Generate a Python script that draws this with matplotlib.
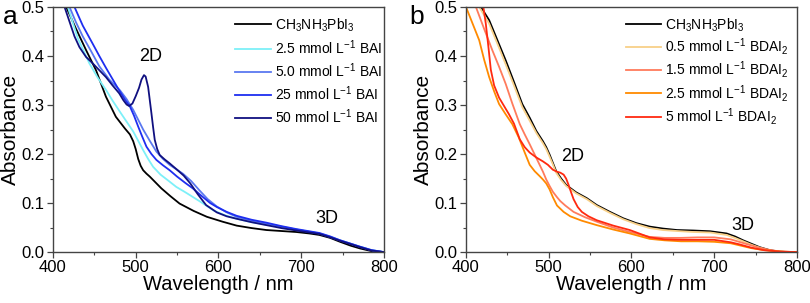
import matplotlib.pyplot as plt
from matplotlib.ticker import MultipleLocator

plt.rcParams['font.family'] = ['Liberation Sans', 'DejaVu Sans']
plt.rcParams['mathtext.fontset'] = 'custom'
plt.rcParams['mathtext.rm'] = 'Liberation Sans'
plt.rcParams['mathtext.it'] = 'Liberation Sans:italic'

# ── panel a: BAI series (wavelength nm, absorbance) ──
a_mapi_x = [416, 428, 440, 452, 464, 476, 487, 493, 497, 500, 503, 506, 509, 513, 517, 524, 531, 542, 553,
            570, 586, 605, 622, 640, 658, 676, 694, 710, 722, 735, 747, 760, 771, 785, 800]
a_mapi_y = [0.50, 0.455, 0.412, 0.371, 0.317, 0.276, 0.252, 0.240, 0.226, 0.210, 0.190, 0.176, 0.167, 0.160, 0.154, 0.142,
            0.130, 0.114, 0.099, 0.084, 0.072, 0.062, 0.054, 0.049, 0.045, 0.043, 0.041, 0.038, 0.035, 0.029, 0.021, 0.013,
            0.0075, 0.002, 0.0]

a_bai25_x = [418, 430, 444, 454, 464, 472, 481, 489, 497, 503, 509, 515, 521, 530, 540, 549, 560, 577, 594,
             608, 622, 640, 658, 676, 694, 708, 722, 735, 747, 760, 771, 785, 800]
a_bai25_y = [0.50, 0.436, 0.385, 0.356, 0.331, 0.309, 0.286, 0.266, 0.246, 0.227, 0.208, 0.190, 0.174, 0.158, 0.145, 0.133,
             0.122, 0.104, 0.085, 0.075, 0.068, 0.061, 0.056, 0.051, 0.046, 0.042, 0.038, 0.031, 0.024, 0.017, 0.011,
             0.004, 0.0]

a_bai50_x = [420, 428, 436, 446, 456, 468, 481, 489, 497, 503, 509, 517, 525, 533, 541, 549, 557, 567, 577,
             587, 598, 610, 622, 640, 658, 676, 694, 708, 722, 735, 747, 760, 771, 785, 800]
a_bai50_y = [0.50, 0.468, 0.440, 0.410, 0.379, 0.352, 0.330, 0.312, 0.290, 0.270, 0.250, 0.227, 0.205, 0.190, 0.178, 0.169,
             0.160, 0.145, 0.126, 0.108, 0.093, 0.081, 0.072, 0.064, 0.058, 0.052, 0.046, 0.042, 0.038, 0.031, 0.024,
             0.017, 0.011, 0.004, 0.0]

a_bai250_x = [426, 436, 448, 456, 464, 473, 481, 487, 493, 498, 503, 508, 513, 519, 525, 533, 541, 550, 560,
              569, 580, 590, 598, 610, 622, 640, 658, 676, 694, 708, 722, 735, 747, 760, 771, 785, 800]
a_bai250_y = [0.50, 0.462, 0.425, 0.400, 0.376, 0.350, 0.327, 0.311, 0.297, 0.278, 0.256, 0.235, 0.215, 0.200, 0.188,
              0.177, 0.167, 0.154, 0.141, 0.130, 0.114, 0.100, 0.092, 0.082, 0.074, 0.066, 0.060, 0.053, 0.047, 0.043,
              0.039, 0.032, 0.024, 0.017, 0.011, 0.004, 0.0]

a_bai500_x = [414, 420, 426, 432, 440, 448, 456, 464, 472, 480, 485, 489, 492, 496, 500, 504, 507, 510, 512,
              515, 517, 519, 521, 523, 526, 529, 535, 541, 550, 558, 566, 575, 585, 598, 610, 622, 640, 658, 676,
              698, 710, 722, 735, 747, 760, 771, 785, 800]
a_bai500_y = [0.50, 0.470, 0.440, 0.418, 0.398, 0.385, 0.371, 0.357, 0.340, 0.324, 0.310, 0.301, 0.298, 0.303, 0.318,
              0.335, 0.352, 0.361, 0.358, 0.337, 0.310, 0.283, 0.255, 0.229, 0.210, 0.198, 0.189, 0.181, 0.168, 0.156,
              0.140, 0.118, 0.096, 0.081, 0.073, 0.068, 0.061, 0.055, 0.049, 0.043, 0.040, 0.037, 0.030, 0.023, 0.016,
              0.010, 0.003, 0.0]

# ── panel b: BDAI2 series ──
b_mapi_x = [418, 428, 438, 448, 458, 468, 477, 485, 493, 497, 501, 505, 509, 515, 521, 533, 546, 558, 574,
            590, 606, 622, 638, 655, 675, 695, 715, 725, 735, 745, 755, 767, 779, 790, 800]
b_mapi_y = [0.50, 0.473, 0.432, 0.391, 0.347, 0.302, 0.274, 0.247, 0.226, 0.214, 0.199, 0.182, 0.165, 0.150, 0.137,
            0.122, 0.110, 0.096, 0.082, 0.069, 0.059, 0.052, 0.048, 0.045, 0.044, 0.0425, 0.038, 0.032, 0.024, 0.017,
            0.010, 0.004, 0.001, 0.0, 0.0]

b_bd05_x = [416, 428, 438, 448, 458, 468, 477, 485, 493, 497, 501, 505, 509, 515, 521, 533, 546, 558, 574,
            590, 606, 622, 638, 655, 675, 695, 715, 725, 735, 745, 755, 767, 779, 790, 800]
b_bd05_y = [0.50, 0.466, 0.425, 0.383, 0.340, 0.296, 0.268, 0.243, 0.222, 0.210, 0.195, 0.179, 0.162, 0.147, 0.135,
            0.120, 0.108, 0.094, 0.080, 0.067, 0.057, 0.049, 0.045, 0.043, 0.041, 0.040, 0.035, 0.029, 0.022, 0.015,
            0.009, 0.003, 0.001, 0.0, 0.0]

b_bd15_x = [412, 422, 432, 440, 448, 456, 465, 471, 477, 483, 489, 493, 497, 501, 505, 510, 514, 520, 530,
            544, 558, 578, 598, 622, 640, 660, 680, 700, 720, 730, 740, 752, 765, 780, 800]
b_bd15_y = [0.50, 0.455, 0.411, 0.378, 0.343, 0.303, 0.261, 0.240, 0.220, 0.199, 0.178, 0.164, 0.148, 0.135, 0.123,
            0.112, 0.104, 0.095, 0.082, 0.071, 0.062, 0.050, 0.041, 0.031, 0.029, 0.029, 0.030, 0.030, 0.026, 0.021,
            0.016, 0.010, 0.005, 0.001, 0.0]

b_bd25_x = [400, 408, 416, 422, 428, 434, 440, 448, 456, 464, 471, 477, 483, 489, 493, 497, 501, 505, 510,
            518, 526, 540, 558, 578, 598, 622, 640, 660, 680, 700, 720, 730, 745, 760, 780, 800]
b_bd25_y = [0.50, 0.466, 0.432, 0.392, 0.357, 0.328, 0.302, 0.281, 0.261, 0.233, 0.203, 0.178, 0.165, 0.155, 0.148,
            0.140, 0.128, 0.112, 0.095, 0.082, 0.073, 0.064, 0.055, 0.046, 0.038, 0.027, 0.024, 0.022, 0.022, 0.021,
            0.018, 0.014, 0.008, 0.004, 0.001, 0.0]

b_bd5_x = [421, 424, 427, 430, 434, 440, 446, 452, 458, 465, 471, 477, 485, 493, 499, 505, 510, 514, 518,
           521, 524, 527, 530, 535, 540, 548, 558, 578, 598, 622, 640, 660, 680, 700, 720, 730, 745, 760, 780, 800]
b_bd5_y = [0.50, 0.465, 0.420, 0.372, 0.340, 0.315, 0.298, 0.281, 0.262, 0.230, 0.214, 0.203, 0.193, 0.185, 0.178,
           0.168, 0.164, 0.162, 0.158, 0.150, 0.137, 0.122, 0.108, 0.092, 0.082, 0.073, 0.065, 0.054, 0.045, 0.030,
           0.026, 0.025, 0.025, 0.025, 0.020, 0.016, 0.009, 0.004, 0.001, 0.0]

a_series = [
    (a_mapi_x, a_mapi_y, '#000000', r'CH$_3$NH$_3$PbI$_3$'),
    (a_bai25_x, a_bai25_y, '#7DF0F8', r'2.5 mmol L$^{-1}$ BAI'),
    (a_bai50_x, a_bai50_y, '#5A78F0', r'5.0 mmol L$^{-1}$ BAI'),
    (a_bai250_x, a_bai250_y, '#1E2EF0', r'25 mmol L$^{-1}$ BAI'),
    (a_bai500_x, a_bai500_y, '#101080', r'50 mmol L$^{-1}$ BAI'),
]
b_series = [
    (b_mapi_x, b_mapi_y, '#000000', r'CH$_3$NH$_3$PbI$_3$'),
    (b_bd05_x, b_bd05_y, '#F8D088', r'0.5 mmol L$^{-1}$ BDAI$_2$'),
    (b_bd15_x, b_bd15_y, '#FF7B5C', r'1.5 mmol L$^{-1}$ BDAI$_2$'),
    (b_bd25_x, b_bd25_y, '#FF8A00', r'2.5 mmol L$^{-1}$ BDAI$_2$'),
    (b_bd5_x, b_bd5_y, '#FF2A10', r'5 mmol L$^{-1}$ BDAI$_2$'),
]

fig = plt.figure(figsize=(8.1, 3.03), dpi=100)
ax_a = fig.add_axes([0.0654, 0.168, 0.4086, 0.809])
ax_b = fig.add_axes([0.5753, 0.168, 0.4086, 0.809])

for ax, series in [(ax_a, a_series), (ax_b, b_series)]:
    for x, y, c, lab in series:
        ax.plot(x, y, color=c, lw=1.3, label=lab)
    ax.set_xlim(400, 800)
    ax.set_ylim(0, 0.5)
    ax.xaxis.set_major_locator(MultipleLocator(100))
    ax.xaxis.set_minor_locator(MultipleLocator(50))
    ax.yaxis.set_major_locator(MultipleLocator(0.1))
    ax.yaxis.set_minor_locator(MultipleLocator(0.05))
    ax.tick_params(which='major', direction='out', length=4, width=0.9, labelsize=12, color='#444444', pad=2)
    ax.tick_params(which='minor', direction='out', length=2.5, width=0.8, color='#444444')
    for s in ax.spines.values():
        s.set_color('#444444')
        s.set_linewidth(1.0)
    ax.set_xlabel('Wavelength / nm', fontsize=14.5, labelpad=0)
    ax.set_ylabel('Absorbance', fontsize=15, labelpad=1)

ax_a.legend(loc='upper right', bbox_to_anchor=(1.01, 0.985), frameon=False, fontsize=10,
            handlelength=2.6, handletextpad=0.25, labelspacing=0.32, borderpad=0.2, borderaxespad=0.2)
ax_b.legend(loc='upper right', bbox_to_anchor=(0.99, 0.985), frameon=False, fontsize=10,
            handlelength=2.5, handletextpad=0.25, labelspacing=0.17, borderpad=0.2, borderaxespad=0.2)

ax_a.text(518, 0.399, '2D', fontsize=13, ha='center', va='center')
ax_a.text(731, 0.068, '3D', fontsize=13, ha='center', va='center')
ax_b.text(529, 0.196, '2D', fontsize=13, ha='center', va='center')
ax_b.text(734, 0.055, '3D', fontsize=13, ha='center', va='center')

fig.text(0.004, 0.985, 'a', fontsize=19, va='top', ha='left')
fig.text(0.505, 0.985, 'b', fontsize=19, va='top', ha='left')

fig.savefig('out.png', dpi=100)
